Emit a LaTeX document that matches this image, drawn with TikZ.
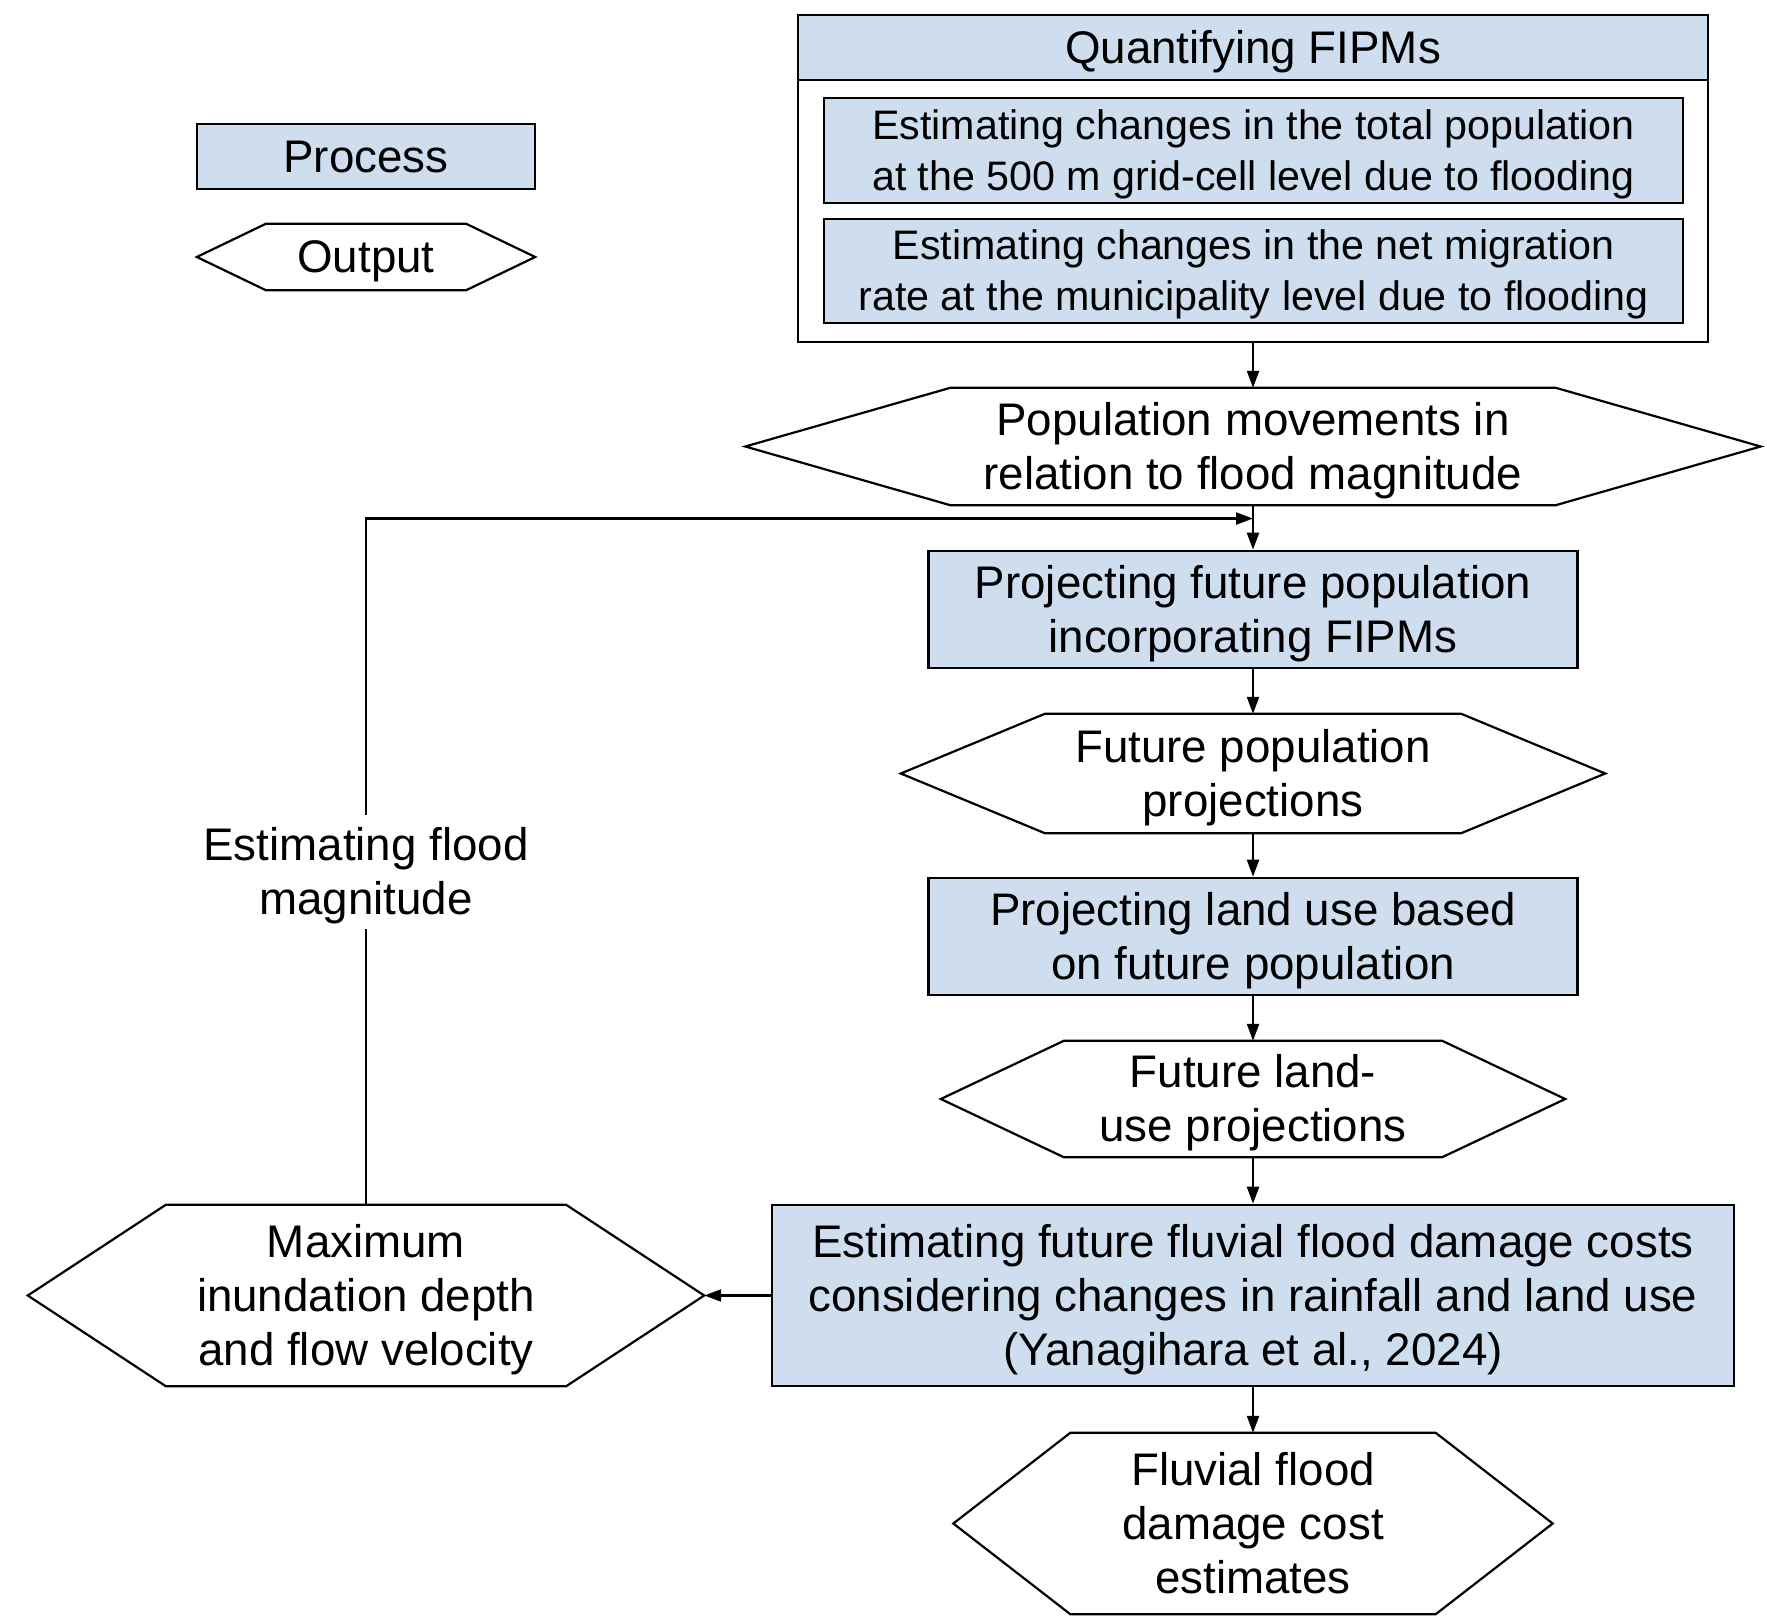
\documentclass[tikz,border=0pt]{standalone}
\usepackage{fontspec}
\setmainfont{Liberation Sans}
\usetikzlibrary{arrows.meta,calc}
\definecolor{procblue}{RGB}{206,222,239}
\newcommand\tst{\rule{0pt}{0.905em}}
\newcommand\bst{\rule[-0.212em]{0pt}{0.212em}}
\tikzset{
  bigfont/.style={font=\fontsize{45.7}{54}\selectfont},
  smallfont/.style={font=\fontsize{41.2}{51}\selectfont},
  proc/.style={draw, line width=2.6pt, fill=procblue, inner sep=0pt, align=center, bigfont},
  outtext/.style={inner sep=0pt, align=center, bigfont},
  hexline/.style={draw, line width=2.2pt, line join=miter},
  arr/.style={line width=2.2pt, -{Triangle[length=17pt,width=12pt]}},
}
\newcommand\hexshape[2]{%
  \draw[hexline] (#1.west) -- ([xshift=#2]#1.north west) -- ([xshift=-#2]#1.north east)
    -- (#1.east) -- ([xshift=-#2]#1.south east) -- ([xshift=#2]#1.south west) -- cycle;}
\begin{document}
\begin{tikzpicture}[x=1pt,y=-1pt]
\useasboundingbox (0,0) rectangle (1767,1624);
% legend
\node[proc, minimum width=338pt, minimum height=65pt] (legproc) at (366,156.5) {\tst Process\bst};
\node[outtext, minimum width=338pt, minimum height=66pt] (legout) at (366,257) {\tst Output\bst};
\hexshape{legout}{69pt}
% quantifying group
\node[draw, line width=2.6pt, inner sep=0pt, minimum width=910pt, minimum height=327pt] (quant) at (1253,178.5) {};
\node[proc, minimum width=910pt, minimum height=65pt] (quanthead) at (1253,47.5) {\tst Quantifying FIPMs\bst};
\node[proc, smallfont, minimum width=859pt, minimum height=105pt] (inner1) at (1253.5,150.5)
  {\tst Estimating changes in the total population\\at the 500 m grid-cell level due to flooding\bst};
\node[proc, smallfont, minimum width=859pt, minimum height=104pt] (inner2) at (1253.5,271)
  {\tst Estimating changes in the net migration\\rate at the municipality level due to flooding\bst};
% main column
\node[outtext, minimum width=1015pt, minimum height=117pt] (popmv) at (1253,446.5)
  {\tst Population movements in\\relation to flood magnitude\bst};
\hexshape{popmv}{205pt}
\node[proc, minimum width=649pt, minimum height=117pt] (projpop) at (1253,609.5)
  {\tst Projecting future population\\incorporating FIPMs\bst};
\node[outtext, minimum width=704pt, minimum height=119pt] (futpop) at (1253,773.5)
  {\tst Future population\\projections\bst};
\hexshape{futpop}{144pt}
\node[proc, minimum width=649pt, minimum height=117pt] (projland) at (1253,936.5)
  {\tst Projecting land use based\\on future population\bst};
\node[outtext, minimum width=624pt, minimum height=116pt] (futland) at (1253,1099)
  {\tst Future land-\\use projections\bst};
\hexshape{futland}{123pt}
\node[proc, minimum width=962pt, minimum height=181pt] (estdmg) at (1253,1295.5)
  {\tst Estimating future fluvial flood damage costs\\considering changes in rainfall and land use\\(Yanagihara et al., 2024)\bst};
\node[outtext, minimum width=676pt, minimum height=181pt] (maxhex) at (366,1295.5)
  {\tst Maximum\\inundation depth\\and flow velocity\bst};
\hexshape{maxhex}{138pt}
\node[outtext, minimum width=599pt, minimum height=181pt] (fluv) at (1253,1523.5)
  {\tst Fluvial flood\\damage cost\\estimates\bst};
\hexshape{fluv}{117pt}
% connectors
\draw[arr] (quant.south) -- (popmv.north);
\draw[arr] (popmv.south) -- (projpop.north);
\draw[arr] (projpop.south) -- (futpop.north);
\draw[arr] (futpop.south) -- (projland.north);
\draw[arr] (projland.south) -- (futland.north);
\draw[arr] (futland.south) -- (estdmg.north);
\draw[arr] (estdmg.south) -- (fluv.north);
\draw[arr] (estdmg.west) -- (maxhex.east);
\coordinate (fbpt) at ($(popmv.south)!0.3!(projpop.north)$);
\draw[arr] (maxhex.north) |- (fbpt);
\node[outtext, fill=white, inner sep=4pt] (fblabel) at (366,872) {\tst Estimating flood\\magnitude\bst};
\end{tikzpicture}
\end{document}
